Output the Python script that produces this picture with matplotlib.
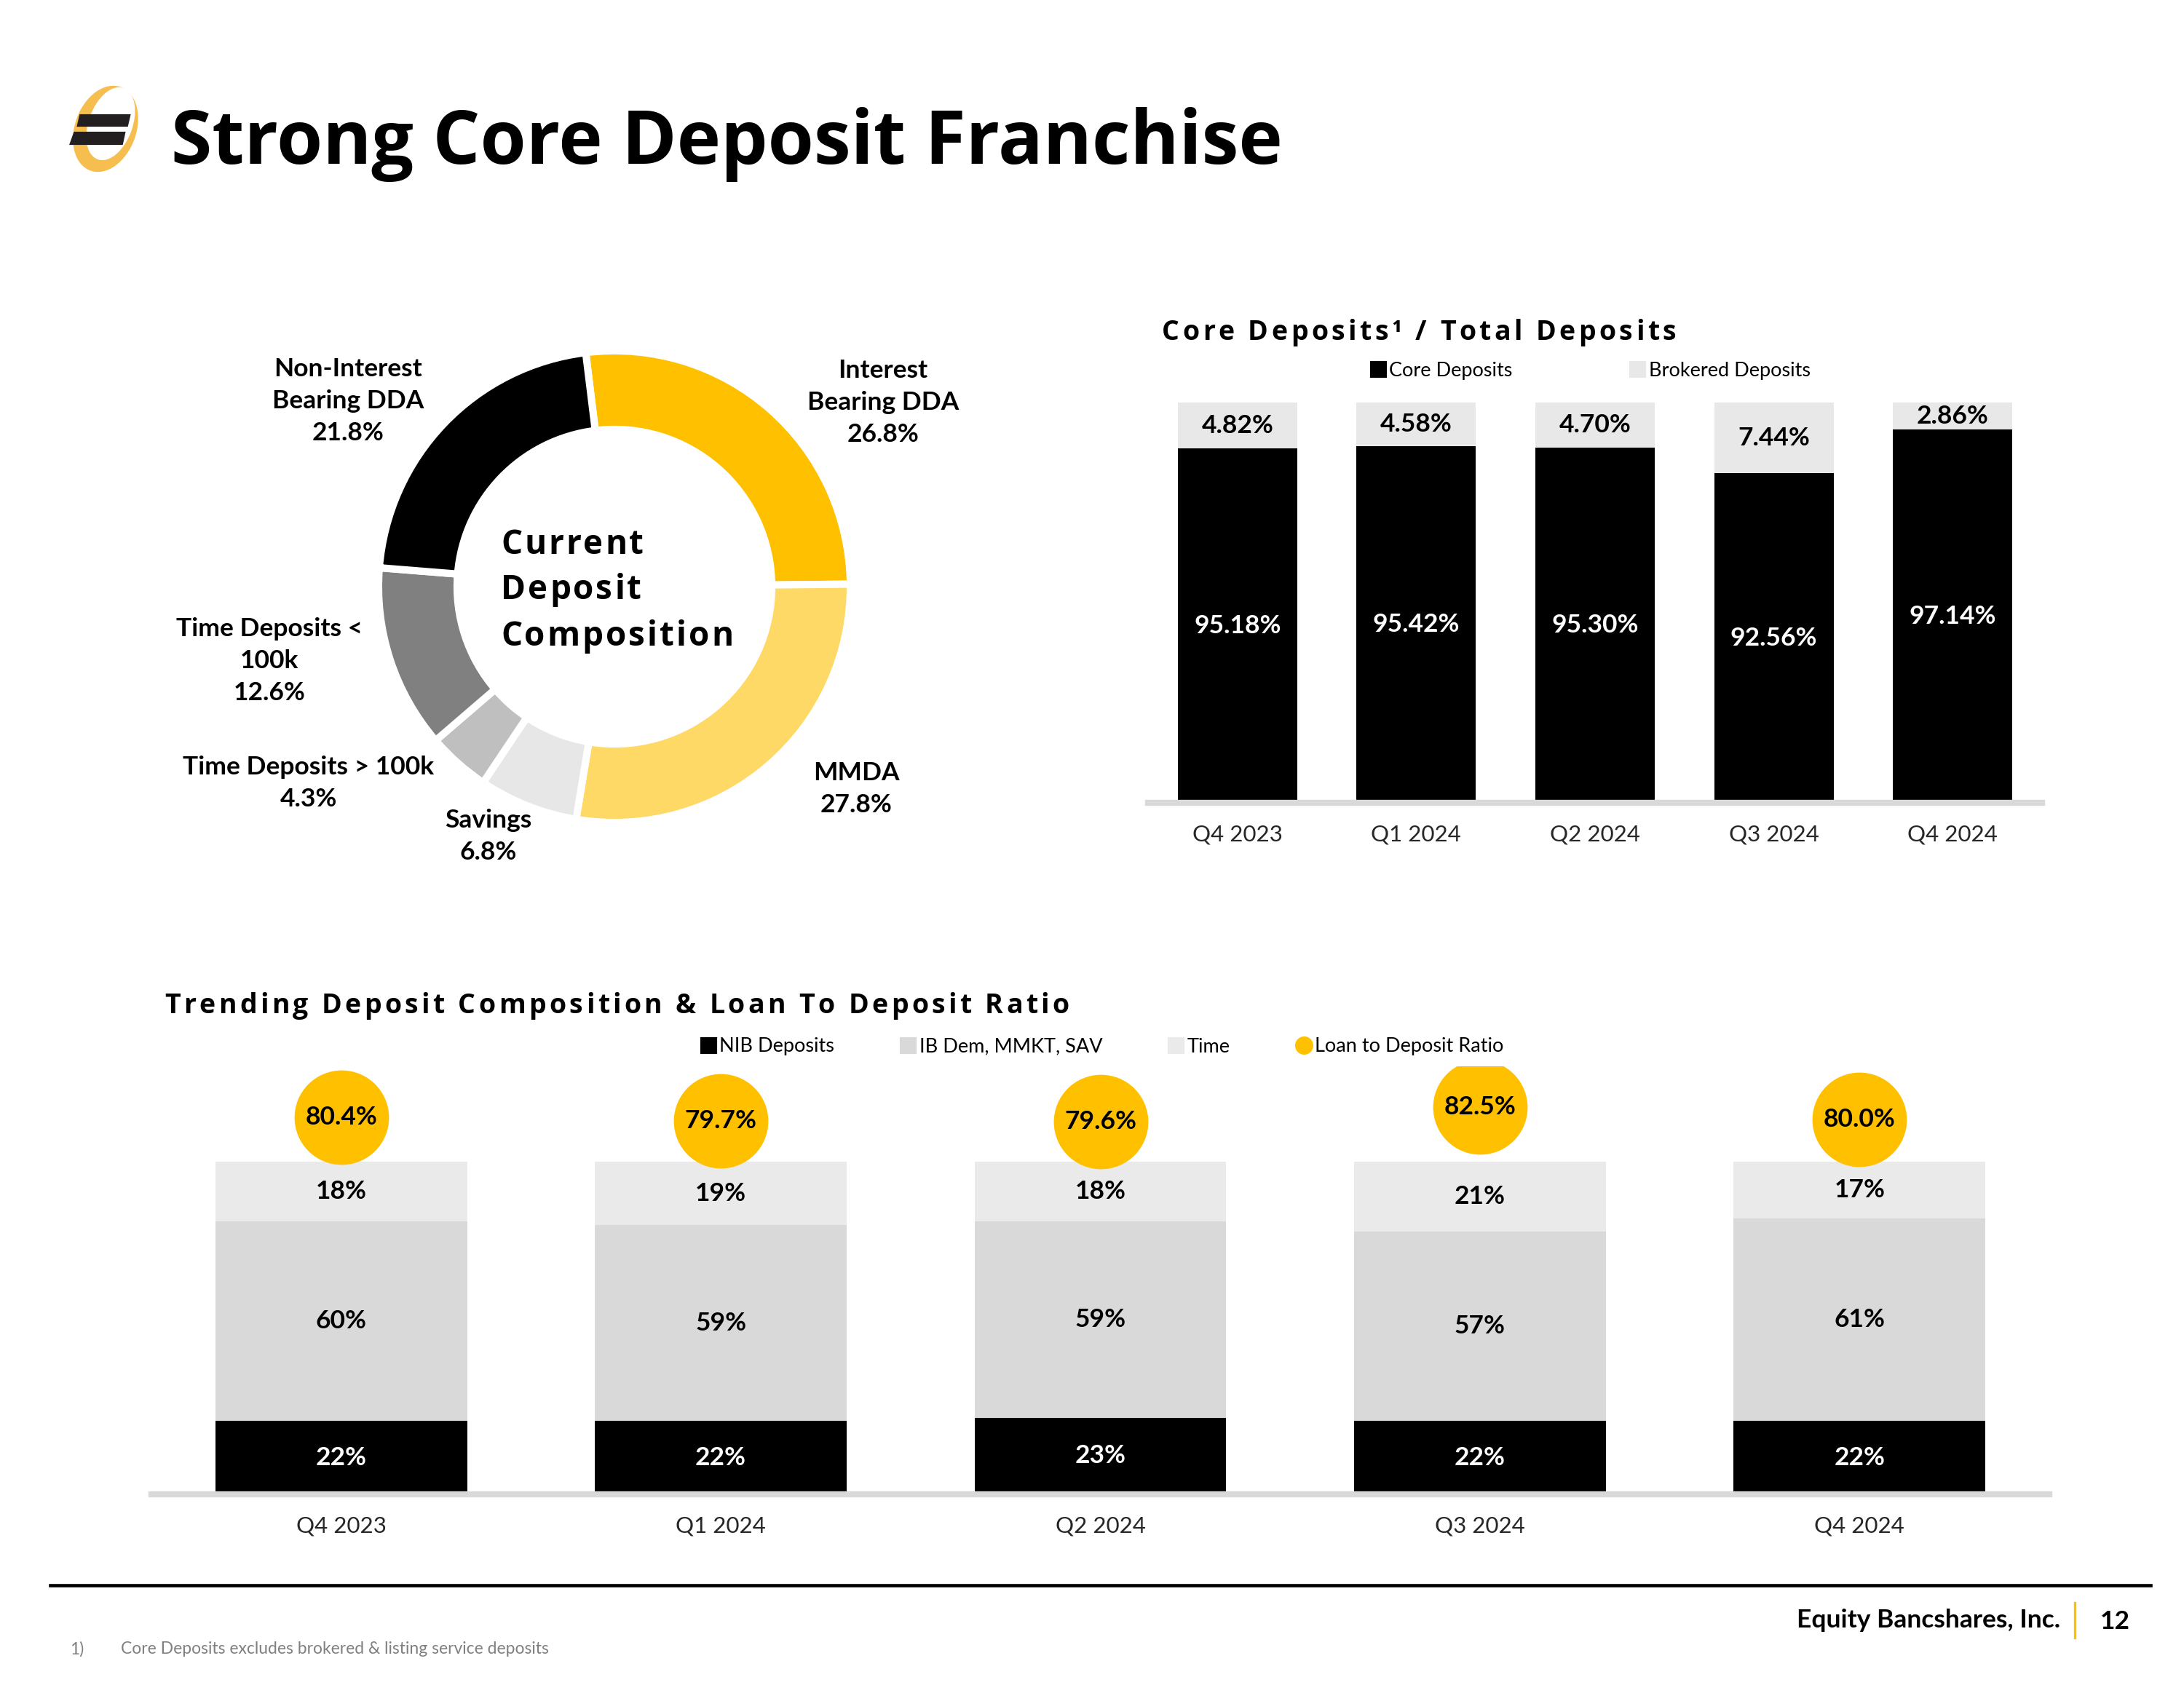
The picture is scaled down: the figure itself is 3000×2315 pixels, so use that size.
import matplotlib
matplotlib.use("Agg")
import matplotlib.pyplot as plt
import numpy as np
from matplotlib import font_manager
from matplotlib.patches import Patch, Ellipse, Polygon
from matplotlib.lines import Line2D

# --- data ---
donut_labels = ["Interest\nBearing DDA", "MMDA", "Savings", "Time Deposits > 100k",
                "Time Deposits <\n100k", "Non-Interest\nBearing DDA"]
donut_vals = [26.8, 27.8, 6.8, 4.3, 12.6, 21.8]
donut_colors = ["#FFC000", "#FFD966", "#E7E7E7", "#BFBFBF", "#808080", "#000000"]

quarters = ["Q4 2023", "Q1 2024", "Q2 2024", "Q3 2024", "Q4 2024"]
core_dep = [95.18, 95.42, 95.30, 92.56, 97.14]
brokered_dep = [4.82, 4.58, 4.70, 7.44, 2.86]

nib_dep = [22, 22, 23, 22, 22]
ib_dep = [60, 59, 59, 57, 61]
time_dep = [18, 19, 18, 21, 17]
loan_to_dep = [80.4, 79.7, 79.6, 82.5, 80.0]

YEL = "#FFC000"
W, H, DPI = 3000, 2315, 300
LATO = "Lato"
OPEN = "Open Sans"

fig = plt.figure(figsize=(W / DPI, H / DPI), dpi=DPI)


def box(x0, y0, x1, y1):
    # pixel box (y down) -> figure fraction rect
    return [x0 / W, 1 - y1 / H, (x1 - x0) / W, (y1 - y0) / H]


# ---- donut ----
cx, cy, R = 844, 806, 324
ax_d = fig.add_axes(box(cx - R * 1.05, cy - R * 1.05, cx + R * 1.05, cy + R * 1.05))
ax_d.pie(donut_vals, colors=donut_colors, startangle=97, counterclock=False, radius=1,
         wedgeprops=dict(width=0.333, edgecolor="white", linewidth=2.4))
ax_d.set_xlim(-1.05, 1.05)
ax_d.set_ylim(-1.05, 1.05)
ax_d.set_aspect("equal")
ax_d.axis("off")

# ---- core deposits / total ----
x = np.arange(len(quarters))
ax_c = fig.add_axes(box(1577, 553, 2805, 1103))
ymin_c = 58
ax_c.bar(x, core_dep, width=0.667, color="black")
ax_c.bar(x, brokered_dep, bottom=core_dep, width=0.667, color="#E8E8E8")
ax_c.set_ylim(ymin_c, 100)
ax_c.set_xlim(-0.5, 4.5)
for i in range(len(x)):
    ax_c.text(x[i], (ymin_c + core_dep[i]) / 2, f"{core_dep[i]:.2f}%", ha="center", va="center",
              color="white", fontsize=8.5, fontweight="bold", family=LATO)
    ax_c.text(x[i], core_dep[i] + brokered_dep[i] / 2, f"{brokered_dep[i]:.2f}%", ha="center",
              va="center", color="black", fontsize=8.5, fontweight="bold", family=LATO)
ax_c.set_xticks(x)
ax_c.set_xticklabels(quarters, fontsize=7.5, family=LATO, color="#262626")
ax_c.set_yticks([])
ax_c.tick_params(length=0, pad=7)
for s in ["left", "top", "right"]:
    ax_c.spines[s].set_visible(False)
ax_c.spines["bottom"].set_color("#D9D9D9")
ax_c.spines["bottom"].set_linewidth(2)
ax_c.legend(handles=[Patch(color="black", label="Core Deposits"),
                     Patch(color="#E8E8E8", label="Brokered Deposits")],
            loc="center left", bbox_to_anchor=(1884 / W, 1 - 509 / H),
            bbox_transform=fig.transFigure, ncol=2, frameon=False,
            handlelength=0.7, handleheight=0.7, handletextpad=0.2, columnspacing=6,
            borderpad=0, borderaxespad=0, prop=dict(family=LATO, size=6.5))

# ---- trending composition ----
ax_b = fig.add_axes(box(208, 1465, 2815, 2053))
b1 = ax_b.bar(x, nib_dep, width=0.663, color="black")
b2 = ax_b.bar(x, ib_dep, bottom=nib_dep, width=0.663, color="#D9D9D9")
b3 = ax_b.bar(x, time_dep, bottom=np.add(nib_dep, ib_dep), width=0.663, color="#EAEAEA")
lab = dict(label_type="center", fontsize=8.5, fontweight="bold", family=LATO)
ax_b.bar_label(b1, labels=[f"{v}%" for v in nib_dep], color="white", **lab)
ax_b.bar_label(b2, labels=[f"{v}%" for v in ib_dep], color="black", **lab)
ax_b.bar_label(b3, labels=[f"{v}%" for v in time_dep], color="black", **lab)
ax_b.set_ylim(0, 128.7)
ax_b.set_xlim(-0.5, 4.5)
ax_b.set_xticks(x)
ax_b.set_xticklabels(quarters, fontsize=7.5, family=LATO, color="#262626")
ax_b.set_yticks([])
ax_b.tick_params(length=0, pad=7)
for s in ["left", "top", "right"]:
    ax_b.spines[s].set_visible(False)
ax_b.spines["bottom"].set_color("#D9D9D9")
ax_b.spines["bottom"].set_linewidth(2)

ax_r = ax_b.twinx()
ax_r.scatter(x, loan_to_dep, s=970, color=YEL, zorder=3, linewidths=0)
for i in range(len(x)):
    ax_r.text(x[i], loan_to_dep[i], f"{loan_to_dep[i]:.1f}%", ha="center", va="center",
              fontsize=8.5, fontweight="bold", family=LATO, zorder=4)
ax_r.set_ylim(5.2, 90.6)
ax_r.set_yticks([])
for s in ax_r.spines.values():
    s.set_visible(False)

ax_b.legend(handles=[Patch(color="black", label="NIB Deposits"),
                     Patch(color="#D9D9D9", label="IB Dem, MMKT, SAV"),
                     Patch(color="#EAEAEA", label="Time"),
                     Line2D([], [], marker="o", ls="none", color=YEL, markersize=5,
                            label="Loan to Deposit Ratio")],
            loc="center left", bbox_to_anchor=(964 / W, 1 - 1438 / H),
            bbox_transform=fig.transFigure, ncol=4, frameon=False,
            handlelength=0.7, handleheight=0.7, handletextpad=0.2, columnspacing=3.4,
            borderpad=0, borderaxespad=0, prop=dict(family=LATO, size=6.5))

# ---- overlay in pixel coords: titles, labels, logo, footer ----
bg = fig.add_axes([0, 0, 1, 1])
bg.set_xlim(0, W)
bg.set_ylim(H, 0)
bg.axis("off")


def spaced(x0, y0, s, size, track):
    fp = font_manager.FontProperties(family=OPEN, weight="bold", size=size)
    ft = font_manager.get_font(font_manager.findfont(fp))
    ft.set_size(size, DPI)
    for ch in s:
        bg.text(x0, y0, ch, fontproperties=fp, ha="left", va="baseline")
        x0 += ft.load_char(ord(ch)).linearHoriAdvance / 65536 + track


# logo
bg.add_patch(Ellipse((145, 177), 80, 118, angle=20, color="#F6BE4F"))
bg.add_patch(Ellipse((152, 170), 56, 100, angle=20, color="white"))
bg.add_patch(Polygon([(111, 159), (177, 159), (174, 172), (108, 172)], color="#231F20"))
bg.add_patch(Polygon([(103, 183), (170, 183), (167, 197), (98, 197)], color="#231F20"))

bg.text(235, 225, "Strong Core Deposit Franchise", family=OPEN, fontweight="bold",
        fontsize=24.5, va="baseline")

spaced(1596, 467, "Core Deposits\u00b9 / Total Deposits", 9, 4.4)
spaced(226, 1392, "Trending Deposit Composition & Loan To Deposit Ratio", 9, 4.35)
for line, yb in zip(["Current", "Deposit", "Composition"], [761, 823, 887]):
    spaced(688, yb, line, 11, 3)

donut_pos = [(1213, 553), (1176, 1084), (671, 1149), (424, 1076), (370, 908), (478, 551)]
for name, v, (px, py) in zip(donut_labels, donut_vals, donut_pos):
    bg.text(px, py, f"{name}\n{v}%", ha="center", va="center", fontsize=8.5,
            fontweight="bold", family=LATO, linespacing=1.45)

# footer
bg.plot([69, 2954], [2178, 2178], color="black", lw=1.1)
bg.text(2830, 2226, "Equity Bancshares, Inc.", ha="right", va="center", fontsize=8.5,
        fontweight="bold", family=LATO)
bg.plot([2850, 2850], [2202, 2250], color=YEL, lw=0.8)
bg.text(2905, 2228, "12", ha="center", va="center", fontsize=8.5, fontweight="bold", family=LATO)
bg.text(96, 2266, "1)", ha="left", va="center", fontsize=5.5, family=LATO, color="#808080")
bg.text(166, 2266, "Core Deposits excludes brokered & listing service deposits", ha="left",
        va="center", fontsize=5.5, family=LATO, color="#808080")

fig.savefig("out.png", dpi=DPI)
